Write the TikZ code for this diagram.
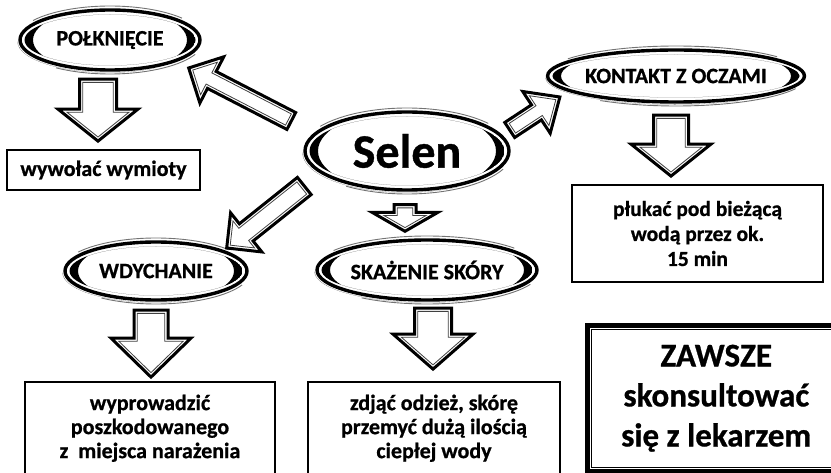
\documentclass[tikz,border=0pt]{standalone}
\usepackage{fontspec}
\setmainfont{Carlito}[BoldFeatures={FakeBold=0.8}]
\usetikzlibrary{calc,shapes.geometric}

% gap between outer and inner outline of the block arrows
\newcommand{\arrgap}{3.2}

% one block arrow outline: style, from, to, shaft half, head half, head length
\newcommand{\arrowpoly}[6]{%
  \coordinate (hb) at ($(#3)!#6!(#2)$);
  \draw[#1] ($(#2)!#4!90:(#3)$) -- ($(hb)!#4!-90:(#2)$) -- ($(hb)!#5!-90:(#2)$) -- (#3)
    -- ($(hb)!#5!90:(#2)$) -- ($(hb)!#4!90:(#2)$) -- ($(#2)!#4!-90:(#3)$) -- cycle;
}

% block arrow with double outline: from, to, shaft half, head half, head length
\newcommand{\blockarrow}[5]{%
  \coordinate (bt) at (#1);
  \coordinate (bh) at (#2);
  \pgfmathsetmacro\tipsh{\arrgap*sqrt(1+(#5/#4)^2)}
  \pgfmathsetmacro\hin{#5-\arrgap-\tipsh}
  \pgfmathsetmacro\Hin{\hin*#4/#5}
  \pgfmathsetmacro\shin{#3-\arrgap}
  \coordinate (it) at ($(bt)!\arrgap pt!(bh)$);
  \coordinate (ih) at ($(bh)!\tipsh pt!(bt)$);
  \arrowpoly{arrowout}{bt}{bh}{#3pt}{#4pt}{#5pt}
  \arrowpoly{arrowin}{it}{ih}{\shin pt}{\Hin pt}{\hin pt}
}

% oval with inner crescents: [style], name, x, y, rx, ry, text
\newcommand{\bubble}[7][]{%
  \begin{scope}[shift={(#3,#4)}]
    \begin{scope}
      \clip (0,0) ellipse ({#5-4.5} and {#6-4.5});
      \fill[even odd rule] (0,0) ellipse ({#5-4.5} and {#6-4.5}) (0,0) ellipse ({#5-13} and {#6+2});
    \end{scope}
    \fill ([shift={(-1.5,1.5)}]180:{#5+1} and {#6+1}) arc[start angle=180, end angle=60, x radius={#5+1}, y radius={#6+1}]
      arc[start angle=60, end angle=180, x radius={#5+1}, y radius={#6+1}] -- cycle;
    \draw[swoosh] (215:{#5+4} and {#6+4}) arc[start angle=215, end angle=320, x radius={#5+4}, y radius={#6+4}];
    \draw[swoosh] (25:{#5+4} and {#6+4}) arc[start angle=25, end angle=125, x radius={#5+4}, y radius={#6+4}];
  \end{scope}
  \node[oval, minimum width={2*#5}, minimum height={2*#6}, #1] (#2) at (#3,#4) {#7};
}

\begin{document}
\begin{tikzpicture}[x=1pt, y=-1pt,
  oval/.style={ellipse, draw, line width=3.4pt, inner sep=0pt, font=\fontsize{22}{24}\selectfont\bfseries},
  box/.style={draw, line width=1.8pt, align=center, inner sep=0pt, font=\fontsize{22}{24}\selectfont\bfseries},
  zawbox/.style={draw, line width=5pt, align=center, inner sep=0pt, font=\fontsize{33}{40}\selectfont\bfseries},
  arrowout/.style={fill=white, line width=3pt, line join=miter},
  arrowin/.style={black!75, line width=0.8pt, line join=miter},
  swoosh/.style={black!55, line width=0.9pt}]
  \useasboundingbox (0,0) rectangle (831,473);

  % --- ovals ---
  \bubble[font=\fontsize{48}{50}\selectfont\bfseries]{selen}{407}{151}{102}{39}{Selen}
  \bubble{pol}{110}{40}{90}{30}{POŁKNIĘCIE}
  \bubble{kon}{676}{76}{128}{26}{KONTAKT Z OCZAMI}
  \bubble{wdy}{156}{271}{91}{29}{WDYCHANIE}
  \bubble{skora}{427}{270}{110}{30}{SKAŻENIE SKÓRY}

  % --- boxes ---
  \node[box, minimum width=193, minimum height=40] (wym) at (103.5,170) {wywołać wymioty};
  \node[box, minimum width=251, minimum height=97, font=\fontsize{21.5}{25}\selectfont\bfseries]
    (plu) at (697.5,233.5) {płukać pod bieżącą\\wodą przez ok.\\15 min};
  \node[box, minimum width=250, minimum height=92.5] (wyp) at (150,428.25)
    {wyprowadzić\\poszkodowanego\\z~~miejsca narażenia};
  \node[box, minimum width=252, minimum height=92.5] (zdj) at (434,428.25)
    {zdjąć odzież, skórę\\przemyć dużą ilością\\ciepłej wody};
  \node[zawbox, minimum width=257.5, minimum height=145.5] (zaw) at (716.25,398.25)
    {ZAWSZE\\skonsultować\\się z lekarzem};
  \draw[line width=1pt] ([shift={(6.5,6.5)}]zaw.north west) rectangle ([shift={(-6.5,-6.5)}]zaw.south east);

  % --- block arrows ---
  \blockarrow{[shift={(-12,-30)}]selen.west}{[shift={(-13,28)}]pol.east}{9.5}{26}{26}
  \blockarrow{[shift={(-1,-21)}]selen.east}{[shift={(14,21)}]kon.west}{9}{25}{28}
  \blockarrow{[shift={(1,35)}]selen.west}{[shift={(-22,-23)}]wdy.east}{11}{25}{25}
  \blockarrow{[shift={(-2,13)}]selen.south}{[shift={(-22,-7)}]skora.north}{11}{33}{19}
  \blockarrow{[shift={(-12,7.5)}]pol.south}{[shift={(-5.5,-8)}]wym.north}{18.5}{40}{32}
  \blockarrow{[shift={(-5,11.5)}]kon.south}{[shift={(-26.5,-8)}]plu.north}{17.5}{40}{32}
  \blockarrow{[shift={(-5,8.5)}]wdy.south}{[shift={(1,-4)}]wyp.north}{17}{40}{39}
  \blockarrow{[shift={(6,6.5)}]skora.south}{[shift={(-1,-12)}]zdj.north}{18.5}{40}{35}
\end{tikzpicture}
\end{document}
